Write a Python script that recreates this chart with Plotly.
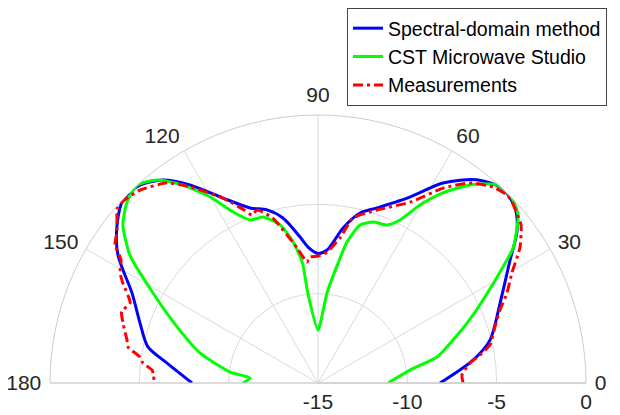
import plotly.graph_objects as go

# Spectral-domain method (blue)
sd_theta = [0, 8.4, 14, 23.7, 32.6, 37.2, 41.6, 46.5, 52, 58, 63.7, 71.4, 76.1, 80.8, 86.1, 90, 94,
            97, 102, 106.4, 111.2, 117.2, 122.9, 127.4, 132, 136.5, 141.8, 147.4, 154.2, 161.4, 168, 172.5, 180]
sd_db = [-8.17, -6.23, -5.08, -3.87, -2.24, -1.02, -0.25, 0.0, -0.57, -1.8, -3.39, -4.66, -5.2, -6.21, -7.54, -7.75, -7.4,
         -6.77, -5.56, -4.9, -4.49, -3.36, -1.8, -0.7, -0.1, 0.0, -0.69, -1.71, -3.44, -4.49, -5.27, -6.48, -7.95]

# CST Microwave Studio (green)
cst_theta = [0, 8, 12.3, 17.7, 21.9, 26.7, 32.1, 34.7, 40, 43.8, 47.9, 52.5, 56.7, 60.2, 63.3, 66.4, 71.1, 75.1,
             78.4, 80.5, 84.3, 90, 96.5, 97.4, 100, 103.5, 108.3, 112.6, 116.4, 120.1, 124.3, 128.4, 132.4, 136.5,
             141, 145.8, 151.4, 158.3, 165.7, 172.9, 175.8, 180]
cst_db = [-11.08, -9.8, -8.18, -7.07, -6.01, -4.66, -2.78, -1.72, -0.38, 0.0, -0.06, -1.03, -2.27, -3.52, -4.79, -5.35, -5.48, -5.85,
          -6.94, -8.2, -9.94, -12.03, -9.9, -8.2, -6.98, -5.9, -5.21, -5.12, -4.31, -2.97, -1.59, -0.5, 0.0, -0.27,
          -0.95, -2.27, -4.48, -6.51, -8.18, -10.04, -11.18, -10.8]

# Measurements (red)
meas_theta = [0, 3.2, 7.5, 9.8, 12.5, 17.6, 21.9, 25.5, 29.6, 33.8, 37.9, 43, 44.8, 48.2, 52.8, 57.3, 63, 71.2, 78,
              81.4, 86, 90, 93.6, 95.2, 98.8, 101.8, 105.3, 109.4, 111.5, 113, 117.2, 123.1, 127, 132.7, 136.8, 138.9,
              143.1, 145.8, 148, 150.9, 152.9, 156.9, 160, 162.9, 167.3, 169.3, 171.7, 173.5, 175.5, 176.5, 179]
meas_db = [-6.88, -6.93, -6.42, -5.8, -5.14, -4.61, -4.02, -3.28, -2.52, -1.4, -0.6, -0.15, -0.08, -0.29, -0.94, -2.04, -3.64, -4.77, -5.56,
           -6.79, -7.65, -7.9, -7.93, -8.2, -7.35, -6.54, -5.43, -4.74, -4.9, -4.5, -3.36, -1.9, -0.97, -0.31, -0.08, -0.1,
           -0.93, -1.26, -2.0, -2.32, -2.73, -3.57, -3.3, -3.58, -4.04, -4.18, -4.93, -5.14, -5.68, -5.75, -5.82]

angle_ticks = [0, 30, 60, 90, 120, 150, 180]
radial_ticks = [-15, -10, -5, 0]
radial_labels = ["-15", "-10", "-5", "0"]

fig = go.Figure()
fig.add_trace(go.Scatterpolar(theta=sd_theta, r=sd_db, mode="lines", name="Spectral-domain method",
                              line=dict(color="#0000ff", width=3, shape="spline", smoothing=0.8)))
fig.add_trace(go.Scatterpolar(theta=cst_theta, r=cst_db, mode="lines", name="CST Microwave Studio",
                              line=dict(color="#00ff00", width=3, shape="spline", smoothing=0.6)))
fig.add_trace(go.Scatterpolar(theta=meas_theta, r=meas_db, mode="lines", name="Measurements",
                              line=dict(color="#ff0000", width=3, dash="10px,4px,3px,4px",
                                        shape="spline", smoothing=0.5)))

# The page body adds an 8px offset; positions below are in figure pixels
W, H = 620, 415
grid = "#d9d9d9"
fig.update_layout(
    width=W, height=H,
    margin=dict(l=0, r=0, t=0, b=0, autoexpand=False),
    paper_bgcolor="white",
    font=dict(family="Liberation Sans, Arial, sans-serif", size=21, color="#262626"),
    polar=dict(
        domain=dict(x=[42/W, 578/W], y=[40/H, 308/H]),
        sector=[0, 180],
        bgcolor="white",
        angularaxis=dict(direction="counterclockwise", rotation=0,
                         tickmode="array", tickvals=angle_ticks,
                         ticktext=[str(a) for a in angle_ticks],
                         ticks="outside", ticklen=4, tickcolor="rgba(0,0,0,0)",
                         showline=True, linecolor="#cccccc", linewidth=1,
                         gridcolor=grid, gridwidth=1,
                         tickfont=dict(size=21, color="#262626")),
        radialaxis=dict(range=[-15, 0], angle=0, tickangle=0,
                        tickmode="array", tickvals=radial_ticks, ticktext=radial_labels,
                        ticks="", showline=True, linecolor="#cccccc", linewidth=1,
                        gridcolor=grid, gridwidth=1,
                        tickfont=dict(size=21, color="#262626")),
    ),
    legend=dict(x=339/W, y=1.0, xanchor="left", yanchor="top",
                bgcolor="white", bordercolor="#444444", borderwidth=1,
                font=dict(size=19.5, color="black"), tracegroupgap=0),
    showlegend=True,
)

fig.write_html("out.html")
